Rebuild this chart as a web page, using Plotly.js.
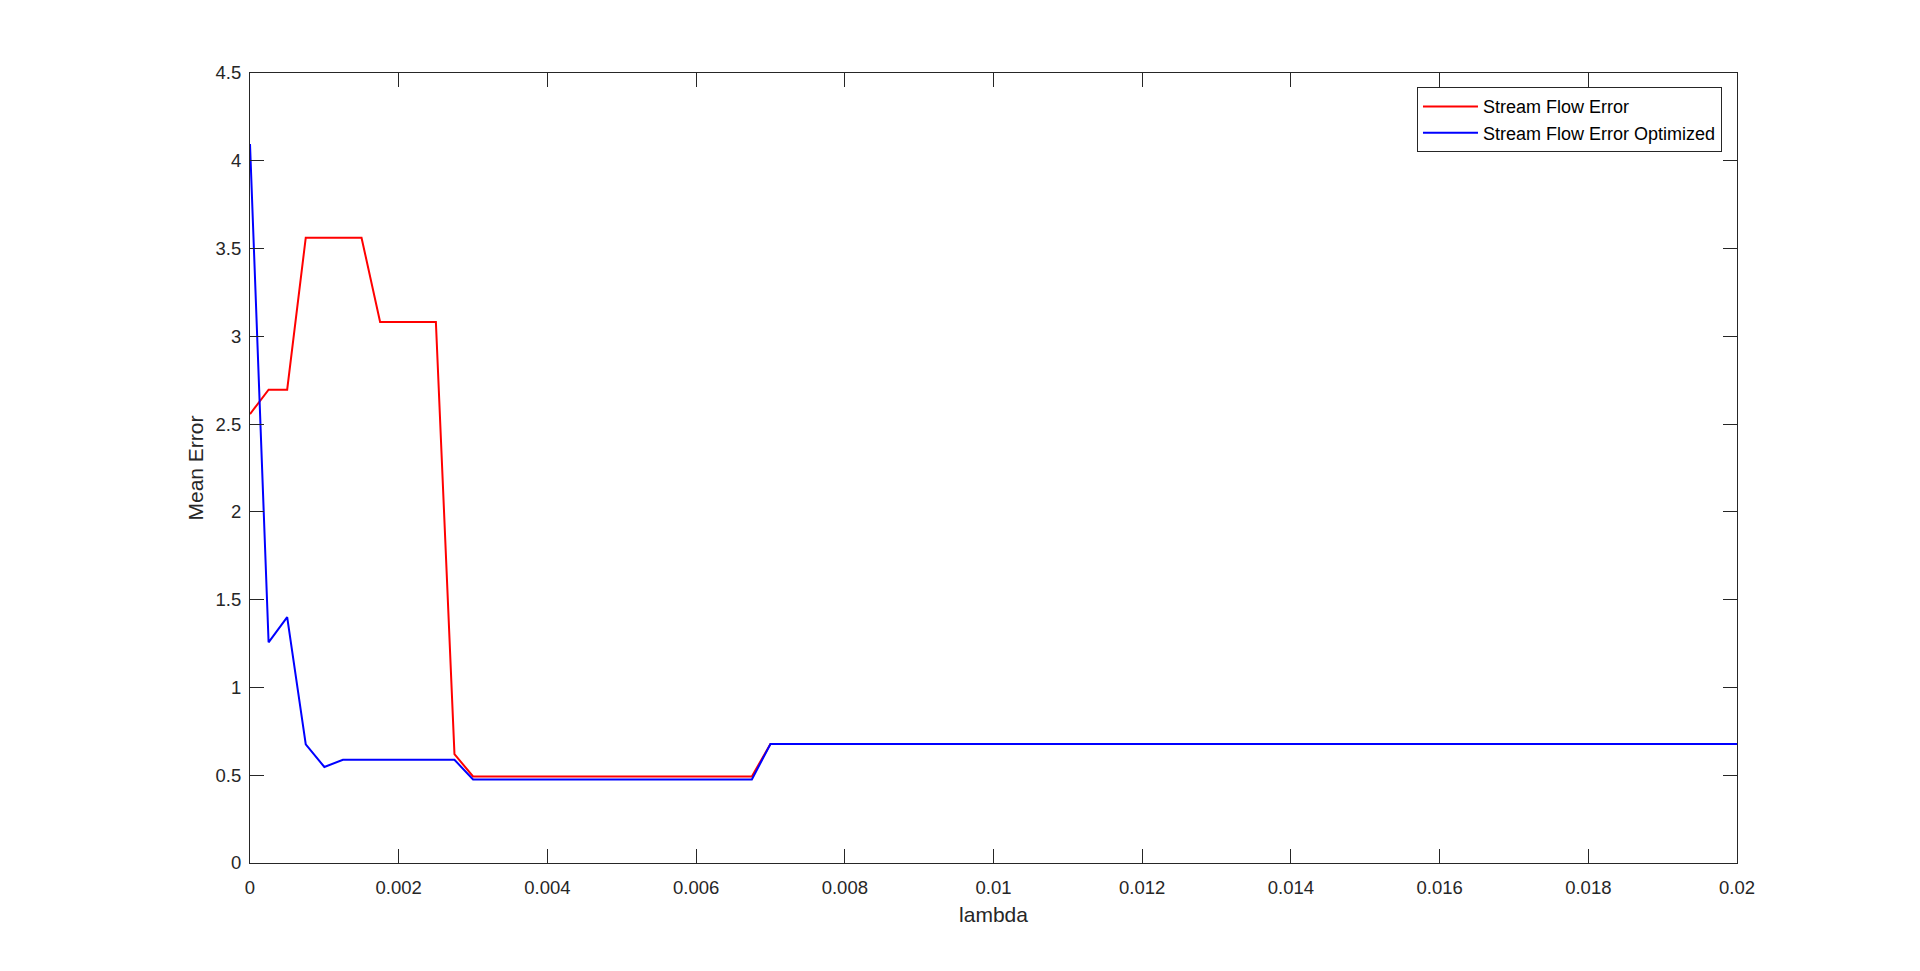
<!DOCTYPE html>
<html>
<head>
<meta charset="utf-8">
<script src="https://cdn.plot.ly/plotly-3.0.1.min.js"></script>
<style>html,body{margin:0;padding:0;background:#fff;}#chart{width:1920px;height:971px;}</style>
</head>
<body>
<div id="chart"></div>
<script>
const lambda = [0,0.00025,0.0005,0.00075,0.001,0.00125,0.0015,0.00175,0.002,0.00225,
0.0025,0.00275,0.003,0.00325,0.0035,0.00375,0.004,0.00425,0.0045,0.00475,
0.005,0.00525,0.0055,0.00575,0.006,0.00625,0.0065,0.00675,0.007,0.00725,
0.0075,0.00775,0.008,0.00825,0.0085,0.00875,0.009,0.00925,0.0095,0.00975,
0.01,0.01025,0.0105,0.01075,0.011,0.01125,0.0115,0.01175,0.012,0.01225,
0.0125,0.01275,0.013,0.01325,0.0135,0.01375,0.014,0.01425,0.0145,0.01475,
0.015,0.01525,0.0155,0.01575,0.016,0.01625,0.0165,0.01675,0.017,0.01725,
0.0175,0.01775,0.018,0.01825,0.0185,0.01875,0.019,0.01925,0.0195,0.01975,0.02];

const streamFlowError = [2.557,2.696,2.696,3.562,3.562,3.562,3.562,3.082,3.082,3.082,
3.082,0.62,0.493,0.493,0.493,0.493,0.493,0.493,0.493,0.493,
0.493,0.493,0.493,0.493,0.493,0.493,0.493,0.493,0.678,0.678,
0.678,0.678,0.678,0.678,0.678,0.678,0.678,0.678,0.678,0.678,
0.678,0.678,0.678,0.678,0.678,0.678,0.678,0.678,0.678,0.678,
0.678,0.678,0.678,0.678,0.678,0.678,0.678,0.678,0.678,0.678,
0.678,0.678,0.678,0.678,0.678,0.678,0.678,0.678,0.678,0.678,
0.678,0.678,0.678,0.678,0.678,0.678,0.678,0.678,0.678,0.678,0.678];

const streamFlowErrorOptimized = [4.096,1.257,1.401,0.676,0.547,0.588,0.588,0.588,0.588,0.588,
0.588,0.588,0.476,0.476,0.476,0.476,0.476,0.476,0.476,0.476,
0.476,0.476,0.476,0.476,0.476,0.476,0.476,0.476,0.678,0.678,
0.678,0.678,0.678,0.678,0.678,0.678,0.678,0.678,0.678,0.678,
0.678,0.678,0.678,0.678,0.678,0.678,0.678,0.678,0.678,0.678,
0.678,0.678,0.678,0.678,0.678,0.678,0.678,0.678,0.678,0.678,
0.678,0.678,0.678,0.678,0.678,0.678,0.678,0.678,0.678,0.678,
0.678,0.678,0.678,0.678,0.678,0.678,0.678,0.678,0.678,0.678,0.678];

const seriesNames = ["Stream Flow Error", "Stream Flow Error Optimized"];
const xTicks = [0,0.002,0.004,0.006,0.008,0.01,0.012,0.014,0.016,0.018,0.02];
const xTickText = ["0","0.002","0.004","0.006","0.008","0.01","0.012","0.014","0.016","0.018","0.02"];
const yTicks = [0,0.5,1,1.5,2,2.5,3,3.5,4,4.5];
const yTickText = ["0","0.5","1","1.5","2","2.5","3","3.5","4","4.5"];

const font = "Liberation Sans, Arial, Helvetica, sans-serif";
const axisColor = "#262626";

const traces = [
  {x: lambda, y: streamFlowError, name: seriesNames[0], type: "scatter", mode: "lines",
   line: {color: "#ff0000", width: 2}},
  {x: lambda, y: streamFlowErrorOptimized, name: seriesNames[1], type: "scatter", mode: "lines",
   line: {color: "#0000ff", width: 2}}
];

const axisCommon = {
  showgrid: false, zeroline: false, showline: true, mirror: "ticks",
  linecolor: axisColor, linewidth: 1, ticks: "inside", ticklen: 14, tickwidth: 1,
  tickcolor: axisColor, tickfont: {family: font, size: 18.5, color: axisColor},
  tickmode: "array"
};

const layout = {
  width: 1920, height: 971,
  paper_bgcolor: "#ffffff", plot_bgcolor: "#ffffff",
  margin: {l: 250, r: 183, t: 73, b: 108, pad: 0},
  showlegend: true,
  font: {family: font, color: axisColor},
  xaxis: Object.assign({}, axisCommon, {
    range: [0, 0.02], tickvals: xTicks, ticktext: xTickText, ticklabelstandoff: 8,
    title: {text: "lambda", font: {family: font, size: 21, color: axisColor}, standoff: 10}
  }),
  yaxis: Object.assign({}, axisCommon, {
    range: [0, 4.5], tickvals: yTicks, ticktext: yTickText, ticklabelstandoff: 4,
    title: {text: "Mean Error", font: {family: font, size: 21, color: axisColor}, standoff: 6}
  }),
  legend: {
    x: 0.9899, xanchor: "right", y: 0.982, yanchor: "top",
    bgcolor: "#ffffff", bordercolor: axisColor, borderwidth: 1,
    font: {family: font, size: 18, color: "#000000"},
    tracegroupgap: 0, itemwidth: 55
  }
};

Plotly.newPlot("chart", traces, layout, {displayModeBar: false, staticPlot: true});
</script>
</body>
</html>
